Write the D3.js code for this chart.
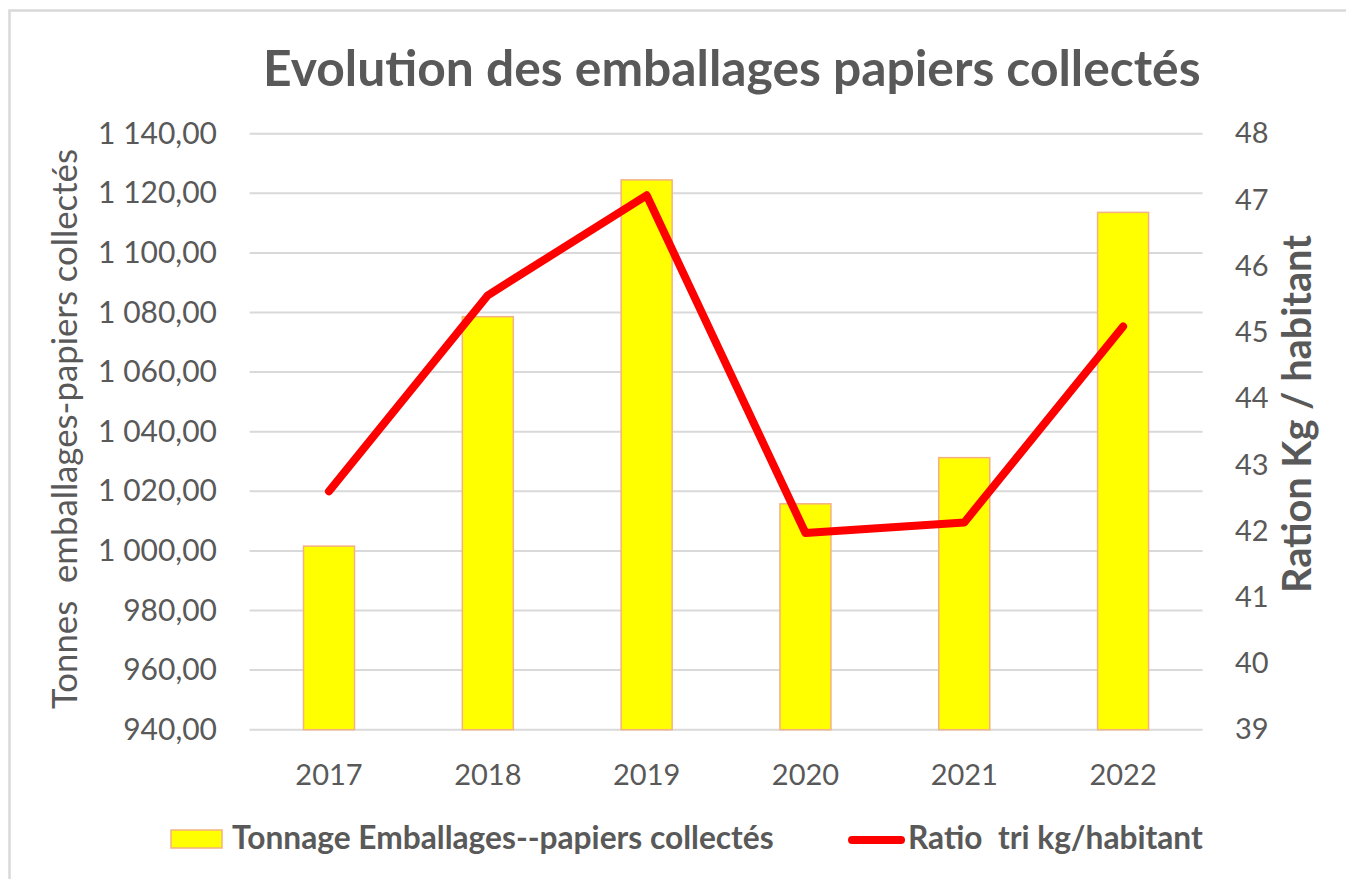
<!DOCTYPE html>
<html lang="fr">
<head>
<meta charset="UTF-8">
<title>Evolution des emballages papiers collectés</title>
<script src="https://cdnjs.cloudflare.com/ajax/libs/d3/7.8.5/d3.min.js"></script>
<style>
  body { margin: 0; padding: 0; background: #fff; }
  svg { display: block; font-family: Lato, "Open Sans", sans-serif; }
</style>
</head>
<body>
<div id="chart"></div>
<script>
// data
const years = ["2017", "2018", "2019", "2020", "2021", "2022"];
const tonnage = [1001.6, 1078.6, 1124.5, 1015.8, 1031.3, 1113.6];
const ratio = [42.6, 45.56, 47.07, 41.97, 42.13, 45.09];
const leftTicks = [940, 960, 980, 1000, 1020, 1040, 1060, 1080, 1100, 1120, 1140];
const rightTicks = [39, 40, 41, 42, 43, 44, 45, 46, 47, 48];

const W = 1346, H = 879;
const grey = "#595959";
const plot = { left: 249.6, right: 1202.5, top: 133.7, bottom: 729.7 };

const svg = d3.select("#chart").append("svg")
    .attr("width", W).attr("height", H);

svg.append("rect").attr("width", W).attr("height", H).attr("fill", "#fff");

// chart frame (only top and left edges show)
svg.append("rect")
    .attr("x", 9.5).attr("y", 10.5)
    .attr("width", W + 20).attr("height", H + 20)
    .attr("fill", "none").attr("stroke", "#d9d9d9").attr("stroke-width", 2.5);

const x = d3.scaleBand().domain(years).range([plot.left, plot.right]).padding(0);
const yL = d3.scaleLinear().domain([940, 1140]).range([plot.bottom, plot.top]);
const yR = d3.scaleLinear().domain([39, 48]).range([plot.bottom, plot.top]);

const fr = d3.formatLocale({ decimal: ",", thousands: " ", grouping: [3], currency: ["", " €"] });
const fmt = fr.format(",.2f");

// shrink/grow a text so it spans the wanted width
function fit(sel, w) {
  const fs = parseFloat(sel.attr("font-size"));
  const cur = sel.node().getComputedTextLength();
  sel.attr("font-size", fs * w / cur);
}

// gridlines
svg.append("g")
  .selectAll("line")
  .data(leftTicks)
  .join("line")
    .attr("x1", plot.left).attr("x2", plot.right)
    .attr("y1", d => yL(d)).attr("y2", d => yL(d))
    .attr("stroke", "#d9d9d9").attr("stroke-width", 2);

// left axis
const axL = svg.append("g")
    .attr("transform", `translate(${217},0)`)
    .call(d3.axisLeft(yL).tickValues(leftTicks).tickFormat(fmt).tickSize(0).tickPadding(0));
axL.select(".domain").remove();
axL.selectAll("text").attr("fill", grey).attr("font-size", 30).attr("font-family", "Lato");

// right axis
const axR = svg.append("g")
    .attr("transform", `translate(${1235},0)`)
    .call(d3.axisRight(yR).tickValues(rightTicks).tickSize(0).tickPadding(0));
axR.select(".domain").remove();
axR.selectAll("text").attr("fill", grey).attr("font-size", 29).attr("font-family", "Lato");

// x axis
const axB = svg.append("g")
    .attr("transform", `translate(0,${764})`)
    .call(d3.axisBottom(x).tickSize(0).tickPadding(0));
axB.select(".domain").remove();
axB.selectAll("text").attr("fill", grey).attr("font-size", 29).attr("font-family", "Lato");

// bars
const bw = 51;
svg.append("g")
  .selectAll("rect")
  .data(years)
  .join("rect")
    .attr("x", d => x(d) + x.bandwidth() / 2 - bw / 2)
    .attr("width", bw)
    .attr("y", (d, i) => yL(tonnage[i]))
    .attr("height", (d, i) => yL(940) - yL(tonnage[i]))
    .attr("fill", "#ffff00")
    .attr("stroke", "#f4b183").attr("stroke-width", 1.5);

// ratio line
const line = d3.line()
    .x((d, i) => x(years[i]) + x.bandwidth() / 2)
    .y(d => yR(d));
svg.append("path")
    .datum(ratio)
    .attr("d", line)
    .attr("fill", "none")
    .attr("stroke", "#ff0000").attr("stroke-width", 8)
    .attr("stroke-linejoin", "round").attr("stroke-linecap", "round");

// title
const title = svg.append("text")
    .attr("x", 263).attr("y", 86)
    .attr("font-size", 46).attr("font-weight", "bold").attr("fill", grey)
    .text("Evolution des emballages papiers collectés");
fit(title, 938);

// axis titles
const tl = svg.append("text")
    .attr("transform", `translate(77,429) rotate(-90)`)
    .attr("text-anchor", "middle")
    .attr("font-size", 30).attr("fill", grey)
    .style("white-space", "pre")
    .text("Tonnes  emballages-papiers collectés");
fit(tl, 560);

const tr = svg.append("text")
    .attr("transform", `translate(1311,414) rotate(-90)`)
    .attr("text-anchor", "middle")
    .attr("font-size", 28).attr("font-weight", "bold").attr("fill", grey)
    .text("Ration Kg / habitant");
fit(tr, 358);

// legend
svg.append("rect")
    .attr("x", 171).attr("y", 830).attr("width", 51).attr("height", 18)
    .attr("fill", "#ffff00").attr("stroke", "#f4b183").attr("stroke-width", 1.5);
const lg1 = svg.append("text")
    .attr("x", 232).attr("y", 849)
    .attr("font-size", 27).attr("font-weight", "bold").attr("fill", grey)
    .style("white-space", "pre")
    .text("Tonnage Emballages--papiers collectés");
fit(lg1, 542);

svg.append("line")
    .attr("x1", 852).attr("x2", 901).attr("y1", 840).attr("y2", 840)
    .attr("stroke", "#ff0000").attr("stroke-width", 8).attr("stroke-linecap", "round");
const lg2 = svg.append("text")
    .attr("x", 908).attr("y", 849)
    .attr("font-size", 27).attr("font-weight", "bold").attr("fill", grey)
    .style("white-space", "pre")
    .text("Ratio  tri kg/habitant");
fit(lg2, 295);
</script>
</body>
</html>
